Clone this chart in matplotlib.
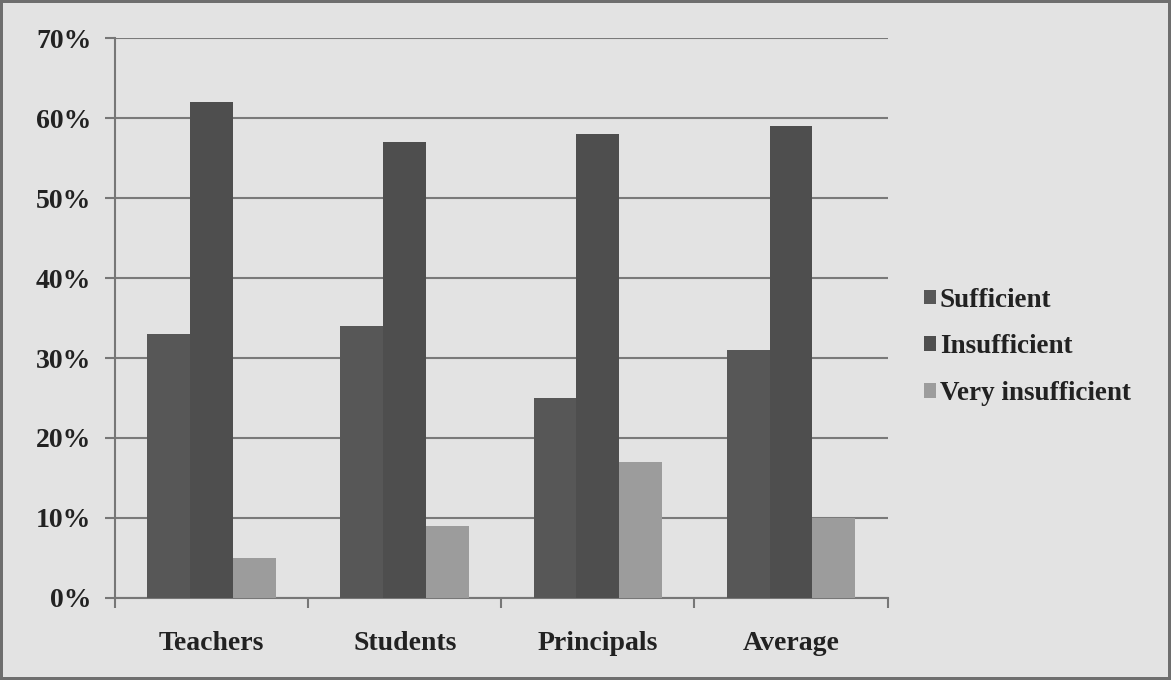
import matplotlib.pyplot as plt
import numpy as np

categories = ["Teachers", "Students", "Principals", "Average"]
series_names = ["Sufficient", "Insufficient", "Very insufficient"]
sufficient = [33, 34, 25, 31]
insufficient = [62, 57, 58, 59]
very_insufficient = [5, 9, 17, 10]
y_ticks = [0, 10, 20, 30, 40, 50, 60, 70]

colors = ["#575757", "#4e4e4e", "#9c9c9c"]
plt.rcParams["font.family"] = ["Liberation Serif", "DejaVu Serif"]
plt.rcParams["font.weight"] = "bold"

fig = plt.figure(figsize=(11.71, 6.8), dpi=100)
fig.patch.set_facecolor("#e3e3e3")
fig.patch.set_edgecolor("#6e6e6e")
fig.patch.set_linewidth(4)
ax = fig.add_axes([0.0982, 0.1206, 0.6598, 0.8235])
ax.set_facecolor("none")

x = np.arange(len(categories))
w = 0.222
for i, (vals, name) in enumerate(zip([sufficient, insufficient, very_insufficient], series_names)):
    ax.bar(x + (i - 1) * w, vals, width=w, color=colors[i], label=name, zorder=3)

ax.set_xlim(-0.5, len(categories) - 0.5)
ax.set_ylim(0, 70)
ax.set_yticks(y_ticks, [f"{t}%" for t in y_ticks], fontsize=20, fontweight="bold", color="#222222")
ax.set_xticks(x, categories, fontsize=20, fontweight="bold", color="#222222")
ax.set_xticks(np.arange(-0.5, len(categories), 1), minor=True)
ax.tick_params(axis="x", which="major", length=0, pad=24)
ax.tick_params(axis="x", which="minor", length=7, color="#777777", width=1.5)
ax.tick_params(axis="y", length=7, color="#777777", width=1.5, pad=10)
ax.grid(axis="y", color="#7a7a7a", linewidth=1.5, zorder=0)
ax.set_axisbelow(True)
for s in ["top", "right"]:
    ax.spines[s].set_visible(False)
for s in ["left", "bottom"]:
    ax.spines[s].set_color("#777777")
    ax.spines[s].set_linewidth(1.5)

fig.legend(loc="center left", bbox_to_anchor=(0.768, 0.49), frameon=False,
           prop={"size": 19.5, "weight": "bold"}, handlelength=0.45, handleheight=0.45,
           handletextpad=0.15, labelspacing=0.8, labelcolor="#222222")

fig.savefig("out.png", dpi=100, facecolor=fig.get_facecolor(), edgecolor=fig.get_edgecolor())
